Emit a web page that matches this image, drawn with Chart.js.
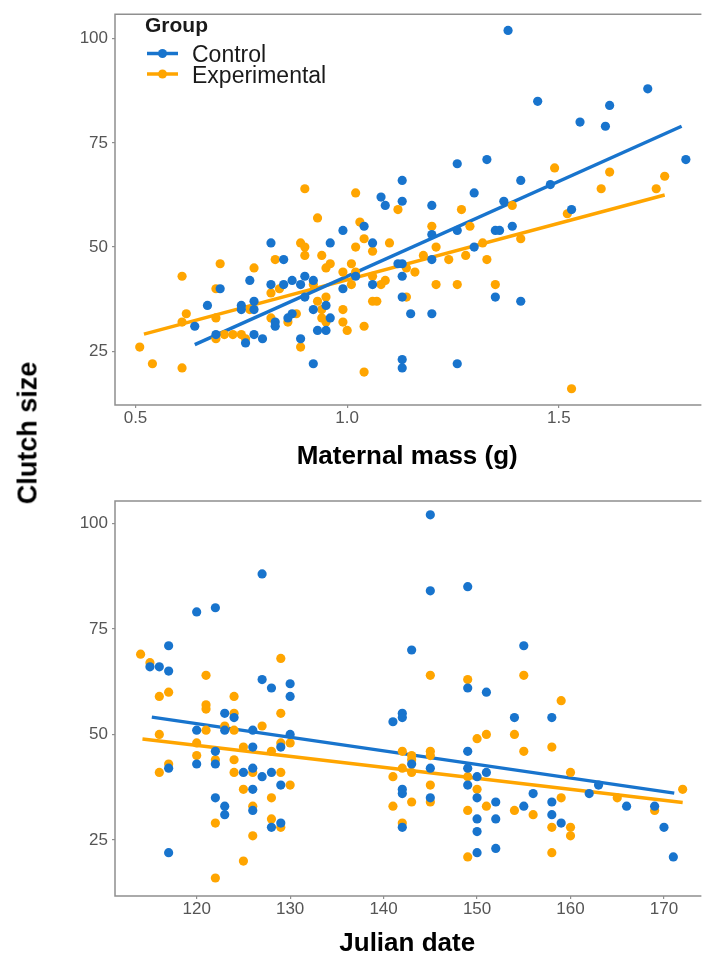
<!DOCTYPE html>
<html>
<head>
<meta charset="utf-8">
<script src="https://cdn.jsdelivr.net/npm/chart.js@4/dist/chart.umd.min.js"></script>
<style>
  html, body { margin: 0; padding: 0; background: #fff; }
  #wrap { position: relative; width: 704px; height: 957px; overflow: hidden; }
  canvas { position: absolute; left: 0; }
  #massChart { top: 0; }
  #dateChart { top: 480px; }
  #ytitle {
    position: absolute; left: 28px; top: 433px;
    transform: translate(-50%, -50%) rotate(-90deg);
    font: bold 27px "Liberation Sans", Arial, sans-serif;
    white-space: nowrap; color: #000;
  }
</style>
</head>
<body>
<div id="wrap">
  <canvas id="massChart" width="704" height="480"></canvas>
  <canvas id="dateChart" width="704" height="477"></canvas>
  <div id="ytitle">Clutch size</div>
</div>
<script>
const FONT = '"Liberation Sans", Arial, sans-serif';
const BLUE = '#1874CD';
const ORANGE = '#FFA500';

// groups
const groupNames = ['Control', 'Experimental'];

// ticks
const massTicks = [0.5, 1.0, 1.5];
const dateTicks = [120, 130, 140, 150, 160, 170];
const clutchTicks = [25, 50, 75, 100];

// maternal mass (g), clutch size
const massControl = [
  [1.38,102],[1.71,88],[1.45,85],[1.62,84],[1.55,80],[1.61,79],[1.33,71],[1.80,71],[1.26,70],
  [1.13,66],[1.41,66],[1.48,65],[1.30,63],[1.08,62],[1.13,61],[1.37,61],[1.20,60],[1.09,60],[1.53,59],
  [1.04,55],[1.39,55],[0.99,54],[1.26,54],[1.35,54],[1.36,54],[1.20,53],
  [0.82,51],[0.96,51],[1.06,51],[1.30,50],
  [0.85,47],[1.20,47],[1.12,46],[1.13,46],
  [0.90,43],[1.02,43],[1.13,43],
  [0.77,42],[0.87,42],[0.92,42],
  [0.82,41],[0.85,41],[0.89,41],[1.06,41],
  [0.70,40],[0.99,40],
  [0.90,38],[1.13,38],[1.35,38],
  [0.78,37],[1.41,37],
  [0.67,36],[0.75,36],[0.95,36],
  [0.75,35],[0.78,35],[0.92,35],
  [0.87,34],[1.15,34],[1.20,34],
  [0.86,33],[0.96,33],
  [0.83,32],
  [0.64,31],[0.83,31],
  [0.93,30],[0.95,30],
  [0.78,29],[0.69,29],
  [0.80,28],[0.89,28],
  [0.76,27],
  [1.13,23],[0.92,22],[1.26,22],[1.13,21]
];
const massExperimental = [
  [0.90,64],[1.02,63],[1.60,64],[1.73,64],[1.49,69],[1.62,68],[1.75,67],
  [1.12,59],[1.27,59],[1.39,60],[1.52,58],
  [0.93,57],[1.03,56],[1.20,55],[1.29,55],
  [1.04,52],[1.41,52],
  [0.89,51],[1.10,51],[1.32,51],
  [0.90,50],[1.02,50],[1.21,50],
  [1.06,49],
  [0.90,48],[0.94,48],[1.18,48],[1.28,48],
  [0.83,47],[1.24,47],[1.33,47],
  [0.70,46],[0.96,46],[1.01,46],
  [0.78,45],[0.95,45],[1.14,45],
  [0.99,44],[1.02,44],[1.16,44],
  [0.61,43],[1.06,43],
  [1.09,42],
  [0.92,41],[1.01,41],[1.08,41],[1.21,41],[1.26,41],[1.35,41],
  [0.84,40],[0.69,40],
  [0.82,39],
  [0.95,38],[1.14,38],
  [0.93,37],[1.06,37],[1.07,37],
  [0.77,35],[0.99,35],[0.94,35],
  [0.62,34],[0.88,34],
  [0.82,33],[0.69,33],[0.94,33],
  [0.61,32],[0.86,32],[0.95,32],[0.99,32],
  [1.04,31],
  [1.00,30],
  [0.73,29],[0.71,29],[0.75,29],
  [0.69,28],[0.76,28],
  [0.51,26],[0.89,26],
  [0.54,22],[0.61,21],[1.04,20],[1.53,16]
];
// fitted lines, end points
const massControlFit = [[0.64,26.6],[1.79,79.0]];
const massExperimentalFit = [[0.52,29.1],[1.75,62.5]];

// julian date, clutch size
const dateControl = [
  [115,66],[116,66],[117,71],[117,65],[117,42],[117,22],
  [120,79],[120,51],[120,43],
  [122,80],[122,46],[122,43],[122,35],
  [123,55],[123,51],[123,33],[123,31],
  [124,54],[125,41],
  [126,51],[126,47],[126,42],[126,37],[126,32],
  [127,88],[127,63],[127,40],
  [128,61],[128,41],[128,28],
  [129,47],[129,38],[129,29],
  [130,62],[130,59],[130,50],
  [141,53],
  [142,55],[142,54],[142,37],[142,36],[142,28],
  [143,70],[143,43],
  [145,102],[145,84],[145,42],[145,35],
  [149,85],[149,61],[149,46],[149,42],[149,38],
  [150,40],[150,35],[150,30],[150,27],[150,22],
  [151,60],[151,41],
  [152,34],[152,30],[152,23],
  [154,54],
  [155,71],[155,33],
  [156,36],
  [158,54],[158,34],[158,31],
  [159,29],
  [162,36],[163,38],[166,33],[169,33],[170,28],[171,21]
];
const dateExperimental = [
  [114,69],[115,67],[116,59],[116,50],[116,41],[117,60],[117,43],
  [120,48],[120,45],
  [121,64],[121,57],[121,56],[121,51],
  [122,44],[122,29],[122,16],
  [123,52],
  [124,59],[124,55],[124,51],[124,44],[124,41],
  [125,47],[125,37],[125,20],
  [126,41],[126,33],[126,26],
  [127,52],
  [128,46],[128,35],[128,30],
  [129,68],[129,55],[129,48],[129,41],[129,28],
  [130,48],[130,38],
  [141,40],[141,33],
  [142,46],[142,42],[142,29],
  [143,45],[143,44],[143,41],[143,34],
  [145,64],[145,46],[145,45],[145,38],[145,34],
  [149,63],[149,40],[149,32],[149,21],
  [150,49],[150,37],
  [151,50],[151,33],
  [154,50],[154,32],
  [155,64],[155,46],
  [156,31],
  [158,47],[158,28],[158,22],
  [159,58],[159,35],
  [160,41],[160,28],[160,26],
  [165,35],[169,32],[172,37]
];
const dateControlFit = [[115.2,54.1],[171.1,36.1]];
const dateExperimentalFit = [[114.2,48.9],[172.0,33.9]];

const toXY = arr => arr.map(p => ({x: p[0], y: p[1]}));

// grey frame on top, left, bottom (right edge is cut off in the original)
const panelFrame = {
  id: 'panelFrame',
  beforeDatasetsDraw(chart) {
    const {ctx, chartArea: a} = chart;
    ctx.save();
    ctx.strokeStyle = '#8f8f8f';
    ctx.lineWidth = 1.5;
    ctx.beginPath();
    ctx.moveTo(a.right + 2, a.top);
    ctx.lineTo(a.left, a.top);
    ctx.lineTo(a.left, a.bottom);
    ctx.lineTo(a.right + 2, a.bottom);
    ctx.stroke();
    ctx.restore();
  }
};

// legend drawn inside the top panel
const insetLegend = {
  id: 'insetLegend',
  afterDraw(chart) {
    const ctx = chart.ctx;
    const colors = [BLUE, ORANGE];
    ctx.save();
    ctx.fillStyle = '#1a1a1a';
    ctx.textBaseline = 'alphabetic';
    ctx.font = 'bold 21px ' + FONT;
    ctx.fillText('Group', 145, 32);
    ctx.font = '23px ' + FONT;
    const rows = [53.5, 74];
    groupNames.forEach((name, i) => {
      const y = rows[i];
      ctx.strokeStyle = colors[i];
      ctx.lineWidth = 3.5;
      ctx.beginPath();
      ctx.moveTo(147, y);
      ctx.lineTo(178, y);
      ctx.stroke();
      ctx.fillStyle = colors[i];
      ctx.beginPath();
      ctx.arc(162.5, y, 4.5, 0, Math.PI * 2);
      ctx.fill();
      ctx.fillStyle = '#1a1a1a';
      ctx.fillText(name, 192, y + 8.5);
    });
    ctx.restore();
  }
};

function pointSet(label, data, color) {
  return {
    label: label,
    data: toXY(data),
    backgroundColor: color,
    borderWidth: 0,
    pointRadius: 4.6,
    pointHoverRadius: 4.6
  };
}

function fitSet(label, data, color) {
  return {
    label: label,
    data: toXY(data),
    showLine: true,
    borderColor: color,
    borderWidth: 3.5,
    pointRadius: 0,
    fill: false
  };
}

const tickGrid = {
  display: true,
  drawOnChartArea: false,
  drawTicks: true,
  tickLength: 3,
  color: '#8f8f8f',
  lineWidth: 1.2
};

function makePanel(canvas, opts) {
  return new Chart(canvas, {
    type: 'scatter',
    data: {
      datasets: [
        pointSet('Control', opts.control, BLUE),
        pointSet('Experimental', opts.experimental, ORANGE),
        fitSet('Control fit', opts.controlFit, BLUE),
        fitSet('Experimental fit', opts.experimentalFit, ORANGE)
      ]
    },
    options: {
      responsive: false,
      devicePixelRatio: 1,
      animation: false,
      layout: { padding: { top: opts.padTop, left: 0, right: 0, bottom: 0 } },
      plugins: { legend: { display: false }, tooltip: { enabled: false } },
      scales: {
        x: {
          type: 'linear',
          min: opts.xMin,
          max: opts.xMax,
          afterBuildTicks: s => { s.ticks = opts.xTicks.map(v => ({value: v})); },
          afterFit: s => { s.height = opts.xHeight; },
          grid: tickGrid,
          border: { display: false },
          ticks: {
            color: '#555',
            font: { size: 17, family: FONT },
            padding: 0,
            maxRotation: 0,
            autoSkip: false,
            callback: opts.xFormat
          },
          title: {
            display: true,
            text: opts.xTitle,
            color: '#000',
            font: { size: 26, weight: 'bold', family: FONT },
            padding: { top: 0, bottom: opts.titlePad }
          }
        },
        y: {
          type: 'linear',
          min: opts.yMin,
          max: opts.yMax,
          afterBuildTicks: s => { s.ticks = clutchTicks.map(v => ({value: v})); },
          afterFit: s => { s.width = 115; },
          grid: tickGrid,
          border: { display: false },
          ticks: {
            color: '#555',
            font: { size: 17, family: FONT },
            padding: 4
          }
        }
      }
    },
    plugins: opts.legend ? [panelFrame, insetLegend] : [panelFrame]
  });
}

makePanel(document.getElementById('massChart'), {
  control: massControl,
  experimental: massExperimental,
  controlFit: massControlFit,
  experimentalFit: massExperimentalFit,
  xMin: 0.4516, xMax: 1.832,
  yMin: 12.1, yMax: 105.9,
  xTicks: massTicks,
  xFormat: v => Number(v).toFixed(1),
  xTitle: 'Maternal mass (g)',
  xHeight: 75,
  titlePad: 8,
  padTop: 10,
  legend: true
});

makePanel(document.getElementById('dateChart'), {
  control: dateControl,
  experimental: dateExperimental,
  controlFit: dateControlFit,
  experimentalFit: dateExperimentalFit,
  xMin: 111.26, xMax: 173.79,
  yMin: 11.74, yMax: 105.28,
  xTicks: dateTicks,
  xFormat: v => String(v),
  xTitle: 'Julian date',
  xHeight: 61,
  titlePad: -2,
  padTop: 21,
  legend: false
});
</script>
</body>
</html>
